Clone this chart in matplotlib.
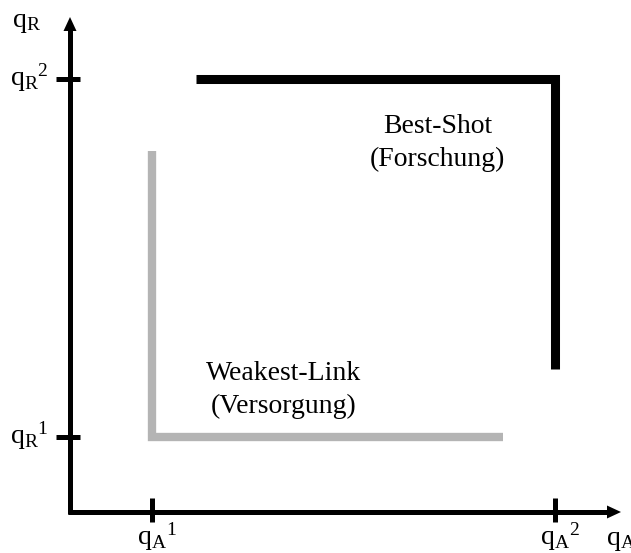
import matplotlib.pyplot as plt
from matplotlib.patches import Polygon

plt.rcParams['font.family'] = ['Liberation Serif', 'DejaVu Serif']
plt.rcParams['mathtext.fontset'] = 'custom'
plt.rcParams['mathtext.rm'] = 'Liberation Serif'
plt.rcParams['mathtext.it'] = 'Liberation Serif:italic'

# levels of the two inputs (qA on x, qR on y)
qA_levels = [1, 2]
qR_levels = [1, 2]
qA_labels = [r'${\mathrm{q}_\mathrm{A}}^{1}$', r'${\mathrm{q}_\mathrm{A}}^{2}$']
qR_labels = [r'${\mathrm{q}_\mathrm{R}}^{1}$', r'${\mathrm{q}_\mathrm{R}}^{2}$']

# isoquant-like curves
best_shot_x = [1.11, 2.0, 2.0]
best_shot_y = [2.0, 2.0, 1.19]
weakest_x = [1.0, 1.0, 1.87]
weakest_y = [1.80, 1.0, 1.0]

W, H = 631, 553
fig = plt.figure(figsize=(W / 100, H / 100), dpi=100)
ax = fig.add_axes([0, 0, 1, 1])
ax.axis('off')

# pixel layout of the reference: level 1 / level 2 positions
PX1, PX2 = 152, 555
PY1, PY2 = 437, 79
sx = PX2 - PX1
sy = PY1 - PY2
ax.set_xlim(1 - PX1 / sx, 1 + (W - PX1) / sx)
ax.set_ylim(1 - (H - PY1) / sy, 1 + PY1 / sy)


def px(x, y):
    return 1 + (x - PX1) / sx, 1 + (PY1 - y) / sy


# axes with arrows
ox, oy = px(70, 512)
lw_axis = 3.6
ax.plot([ox, ox], [px(0, 514)[1], px(0, 28)[1]], color='black', lw=lw_axis,
        solid_capstyle='butt')
ax.plot([px(68, 0)[0], px(609, 0)[0]], [oy, oy], color='black', lw=lw_axis,
        solid_capstyle='butt')
ax.add_patch(Polygon([px(70, 17), px(63.5, 31), px(76.5, 31)],
                     closed=True, color='black', lw=0))
ax.add_patch(Polygon([px(621, 512), px(607, 505.5), px(607, 518.5)],
                     closed=True, color='black', lw=0))

# ticks
for v in qR_levels:
    ax.plot([px(56, 0)[0], px(80, 0)[0]], [v, v], color='black', lw=lw_axis,
            solid_capstyle='butt')
for v in qA_levels:
    ax.plot([v, v], [px(0, 498)[1], px(0, 522)[1]], color='black', lw=lw_axis,
            solid_capstyle='butt')

# curves
ax.plot(best_shot_x, best_shot_y, color='black', lw=6.5,
        solid_capstyle='butt', solid_joinstyle='miter')
ax.plot(weakest_x, weakest_y, color='#b4b4b4', lw=6.0,
        solid_capstyle='butt', solid_joinstyle='miter')

fs = 20
# tick labels
for v, lab in zip(qR_levels, qR_labels):
    base = PY1 - (v - 1) * sy + 7
    ax.text(*px(49, base), lab, fontsize=fs, ha='right', va='baseline')
for v, lab in zip(qA_levels, qA_labels):
    ax.text(v + 5 / sx, px(0, 545)[1], lab, fontsize=fs, ha='center', va='baseline')

# axis names
ax.text(*px(12, 27), r'$\mathrm{q}_\mathrm{R}$', fontsize=fs, ha='left', va='baseline')
ax.text(*px(606, 545), r'$\mathrm{q}_\mathrm{A}$', fontsize=fs, ha='left', va='baseline')

# curve labels
ax.text(*px(438, 133), 'Best-Shot', fontsize=fs, ha='center', va='baseline')
ax.text(*px(437, 166), '(Forschung)', fontsize=fs, ha='center', va='baseline')
ax.text(*px(284, 380), 'Weakest-Link', fontsize=fs, ha='center', va='baseline')
ax.text(*px(284, 413), '(Versorgung)', fontsize=fs, ha='center', va='baseline')

fig.savefig('out.png', dpi=100)
